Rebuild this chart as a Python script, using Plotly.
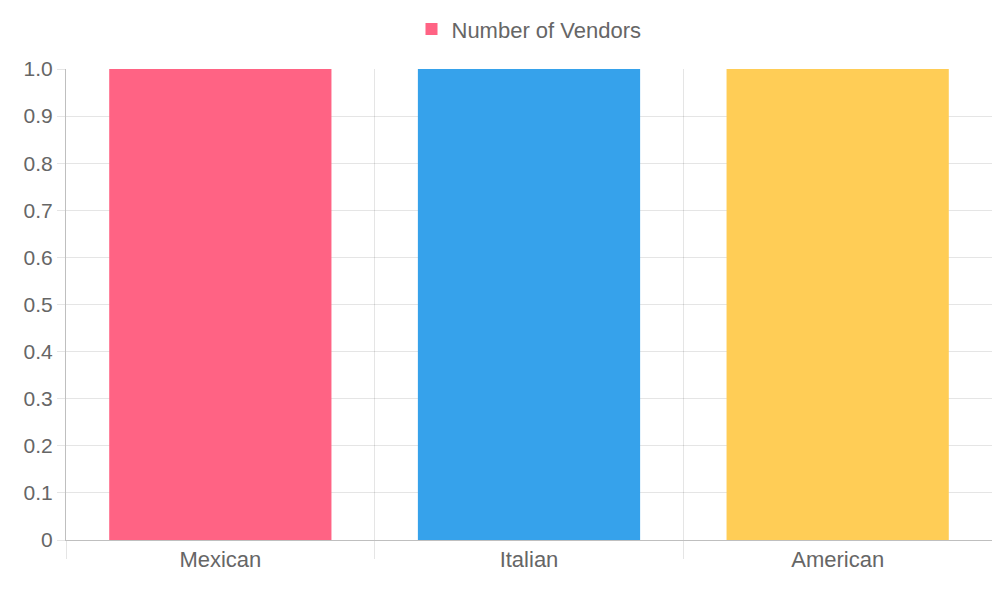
import plotly.graph_objects as go

categories = ["Mexican", "Italian", "American"]
vendors = [1, 1, 1]
colors = ["#ff6384", "#36a2eb", "#ffcd56"]
y_ticks = [0, 0.1, 0.2, 0.3, 0.4, 0.5, 0.6, 0.7, 0.8, 0.9, 1.0]
y_labels = ["0"] + [f"{v:.1f}" for v in y_ticks[1:]]

fig = go.Figure(go.Bar(x=categories, y=vendors, name="Number of Vendors",
                       marker=dict(color=colors, line=dict(width=0)),
                       showlegend=True))

grid = "rgba(0,0,0,0.1)"
fig.update_layout(
    width=984, height=584,
    margin=dict(l=58, r=0, t=56, b=52),
    paper_bgcolor="white", plot_bgcolor="white",
    font=dict(family="Liberation Sans, Arial, sans-serif", size=21, color="#666"),
    bargap=0.28,
    legend=dict(orientation="h", x=0.5, xanchor="center", y=1.04, yanchor="bottom",
                font=dict(size=22, color="#666"), itemsizing="constant"),
    xaxis=dict(tickson="boundaries", showgrid=True, gridcolor=grid,
               ticks="outside", ticklen=18, tickcolor=grid,
               showline=True, linecolor="rgba(0,0,0,0.25)",
               tickfont=dict(size=22, color="#666")),
    yaxis=dict(range=[0, 1.0], tickvals=y_ticks, ticktext=y_labels,
               showgrid=True, gridcolor=grid, ticks="outside", ticklen=8,
               tickcolor=grid, showline=True, linecolor="rgba(0,0,0,0.25)",
               zeroline=False, tickfont=dict(size=21, color="#666")),
)

fig.write_html("out.html")
